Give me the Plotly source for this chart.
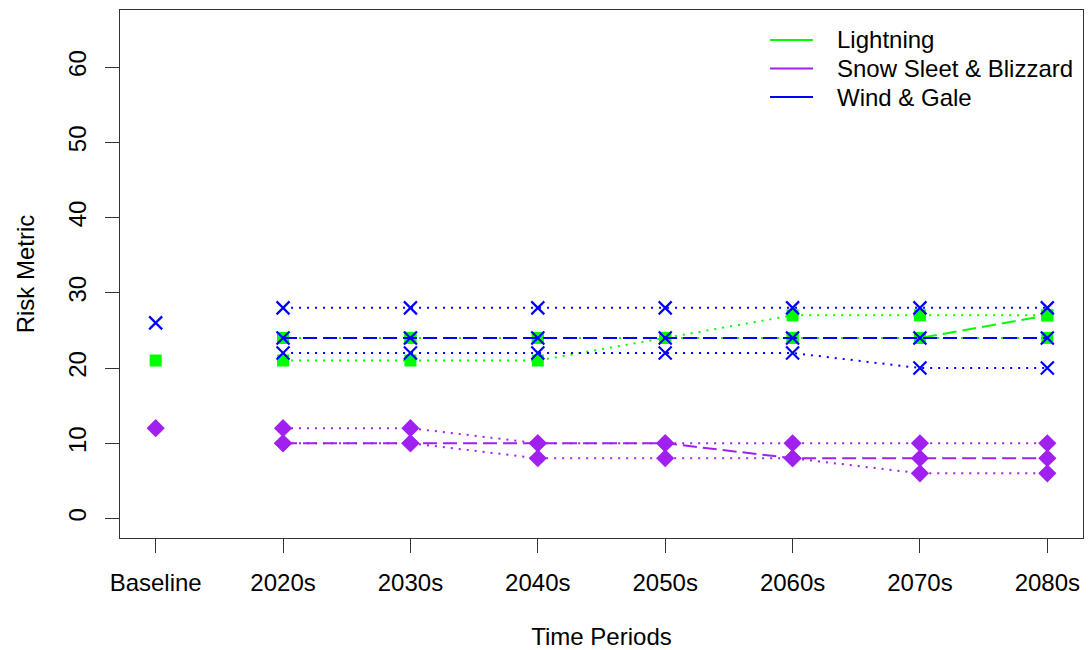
import plotly.graph_objects as go

periods = ["Baseline", "2020s", "2030s", "2040s", "2050s", "2060s", "2070s", "2080s"]
future = periods[1:]

hazards = ["Lightning", "Snow Sleet & Blizzard", "Wind & Gale"]

lightning_baseline = 21
lightning_central = [24, 24, 24, 24, 24, 24, 27]
lightning_low = [21, 21, 21, 24, 24, 24, 24]
lightning_high = [24, 24, 24, 24, 27, 27, 27]

snow_baseline = 12
snow_central = [10, 10, 10, 10, 8, 8, 8]
snow_low = [10, 10, 8, 8, 8, 6, 6]
snow_high = [12, 12, 10, 10, 10, 10, 10]

wind_baseline = 26
wind_central = [24, 24, 24, 24, 24, 24, 24]
wind_low = [22, 22, 22, 22, 22, 20, 20]
wind_high = [28, 28, 28, 28, 28, 28, 28]

y_ticks = [0, 10, 20, 30, 40, 50, 60]

colors = {"Lightning": "#00FF00", "Snow Sleet & Blizzard": "#A020F0", "Wind & Gale": "#0000FF"}
series = {
    "Lightning": (lightning_baseline, lightning_low, lightning_central, lightning_high),
    "Snow Sleet & Blizzard": (snow_baseline, snow_low, snow_central, snow_high),
    "Wind & Gale": (wind_baseline, wind_low, wind_central, wind_high),
}

def marker_for(name, col):
    if name == "Lightning":
        return dict(symbol="square", size=12, color=col, line=dict(width=0))
    if name == "Snow Sleet & Blizzard":
        return dict(symbol="diamond", size=14, color=col, line=dict(width=0))
    return dict(symbol="x-thin", size=13, color=col, line=dict(width=2.2, color=col))

FONT = "Liberation Sans, Arial, Helvetica, sans-serif"
FS = 24
fig = go.Figure()

for name in hazards:
    col = colors[name]
    base, low, cen, high = series[name]
    mk = marker_for(name, col)
    for vals, dash in ((low, "2px,6px"), (high, "2px,6px"), (cen, "14px,6px")):
        fig.add_trace(go.Scatter(
            x=future, y=vals, mode="lines+markers",
            line=dict(color=col, width=2, dash=dash),
            marker=mk, showlegend=False, hoverinfo="skip"))
    fig.add_trace(go.Scatter(
        x=[periods[0]], y=[base], mode="markers",
        marker=mk, showlegend=False, hoverinfo="skip"))

# manual legend (line keys + labels) in paper coordinates
plot_l, plot_w, plot_t, plot_h = 120, 963, 10, 528
def px_x(p):
    return (p - plot_l) / plot_w
def px_y(p):
    return 1 - (p - plot_t) / plot_h
legend_rows = [40, 68.5, 97]
for name, ry in zip(hazards, legend_rows):
    fig.add_shape(type="line", xref="paper", yref="paper",
                  x0=px_x(770), x1=px_x(813), y0=px_y(ry), y1=px_y(ry),
                  line=dict(color=colors[name], width=2))
    fig.add_annotation(xref="paper", yref="paper", x=px_x(835), y=px_y(ry),
                       text=name, showarrow=False, xanchor="left", yanchor="middle",
                       font=dict(size=FS, family=FONT, color="black"))

fig.update_layout(
    width=1091, height=650,
    margin=dict(l=120, r=8, t=10, b=112),
    plot_bgcolor="white", paper_bgcolor="white",
    font=dict(family=FONT, size=FS, color="black"),
    showlegend=False,
    xaxis=dict(
        type="category", categoryorder="array", categoryarray=periods,
        range=[-0.28, 7.28], showgrid=False, zeroline=False, automargin=False,
        showline=True, linecolor="#333", linewidth=1, mirror=True,
        ticks="outside", ticklen=14, tickcolor="#333", tickwidth=1,
        ticklabelstandoff=9,
        title=dict(text="Time Periods", standoff=34, font=dict(size=FS)),
        tickfont=dict(size=FS)),
    yaxis=dict(
        range=[-2.6, 67.6], tickvals=y_ticks, ticktext=[str(v) for v in y_ticks],
        showgrid=False, zeroline=False, automargin=False,
        showline=True, linecolor="#333", linewidth=1, mirror=True,
        ticks="outside", ticklen=14, tickcolor="#333", tickwidth=1,
        tickangle=-90, ticklabelstandoff=9,
        title=dict(text="Risk Metric", standoff=23, font=dict(size=FS)),
        tickfont=dict(size=FS)),
)

fig.write_html("out.html",
               config={"displayModeBar": False},
               post_script="document.body.style.margin='0';document.body.style.overflow='hidden';")
